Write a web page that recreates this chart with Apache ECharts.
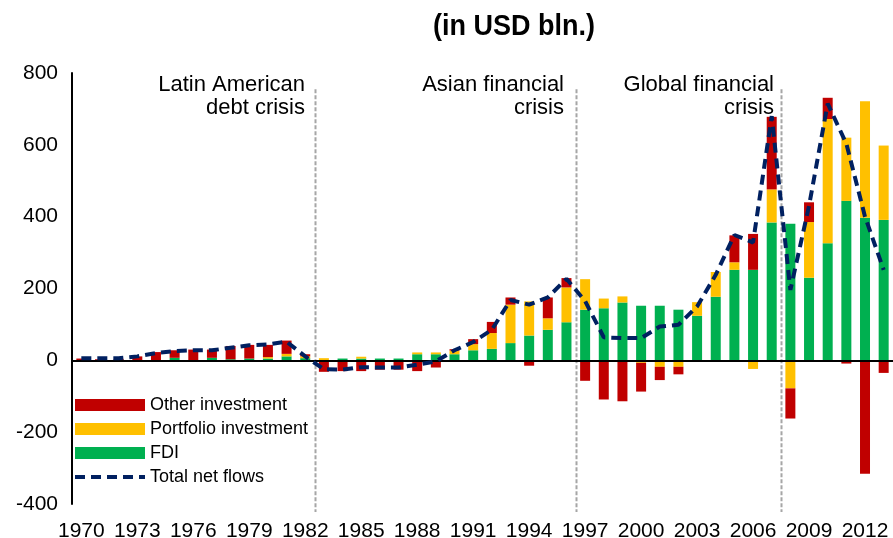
<!DOCTYPE html>
<html><head><meta charset="utf-8">
<script src="https://cdn.jsdelivr.net/npm/echarts@6/dist/echarts.min.js"></script>
<style>html,body{margin:0;padding:0;background:#fff}#c{width:893px;height:538px}</style>
</head><body><div id="c"></div>
<script>
const years = [];
for (let y = 1970; y <= 2013; y++) years.push(String(y));
const fdi = [0,0,0,0,0,7,0,7,3,5,5,11,6, 0,5,5,5,5,17,17,17,28,32,48,69,85,106, 141,145,161,152,152,141,124,177,252,252,384, 380,230,326,444,397,391];
const portfolio = [0,0,0,0,0,0,0,0,0,0,4,7,5, 6,0,5,0,0,5,5,10,17,44,107,95,32,97, 85,27,17,-7,-18,-18,38,69,21,-24,92, -78,155,346,176,324,207];
const other = [5,3,4,11,23,21,30,23,37,38,34,37,6, -32,-30,-30,-26,-26,-30,-20,4,14,31,20,-15,58,26, -57,-109,-114,-80,-37,-21,-3,0,75,100,202, -84,55,59,-9,-316,-35];
const total = [6,6,6,11,20,26,28,28,35,42,44,52,11, -25,-26,-19,-20,-20,-12,-3,28,51,85,168,155,175,227, 165,64,62,62,94,99,150,238,349,328,680, 196,430,715,603,400,252];
const crisisBoundaries = [13, 27, 38];
const crisisLabels = ['Latin American\ndebt crisis', 'Asian financial\ncrisis', 'Global financial\ncrisis'];
const yTicks = {min: -400, max: 800, interval: 200};

const FONT = '"Liberation Sans", Arial, sans-serif';
const NAVY = '#002060';
const chart = echarts.init(document.getElementById('c'));
const annX = [305, 564, 774];
chart.setOption({
  animation: false,
  textStyle: {fontFamily: FONT},
  grid: {left: 72, right: 0, top: 73, bottom: 34, containLabel: false, outerBoundsMode: 'none'},
  legend: {
    orient: 'vertical', left: 73, top: 396, padding: 0,
    itemWidth: 70, itemHeight: 12, itemGap: 6,
    textStyle: {fontSize: 18, color: '#000', fontFamily: FONT},
    data: [{name: 'Other investment', icon: 'rect'}, {name: 'Portfolio investment', icon: 'rect'}, {name: 'FDI', icon: 'rect'},
      {name: 'Total net flows', itemStyle: {color: 'rgba(0,0,0,0)', borderWidth: 0},
       lineStyle: {color: NAVY, width: 4, type: [10, 6]}}]
  },
  xAxis: [
    {type: 'category', data: years, boundaryGap: true,
     axisLine: {show: false, onZero: false}, axisTick: {show: false},
     axisLabel: {interval: 2, fontSize: 21, color: '#000', margin: 17, fontFamily: FONT}},
    {type: 'value', min: 0, max: years.length, show: false}
  ],
  yAxis: {type: 'value', min: yTicks.min, max: yTicks.max, interval: yTicks.interval,
    axisLine: {show: true, lineStyle: {color: '#000', width: 2}}, axisTick: {show: false},
    splitLine: {show: false},
    axisLabel: {fontSize: 21, color: '#000', margin: 14, fontFamily: FONT}},
  series: [
    {name: 'FDI', type: 'bar', stack: 's', data: fdi, barWidth: 10, itemStyle: {color: '#00B050'},
     markLine: {silent: true, symbol: 'none', label: {show: false}, lineStyle: {color: '#000', width: 2, type: 'solid'}, data: [{yAxis: 0}]}},
    {name: 'Portfolio investment', type: 'bar', stack: 's', data: portfolio, barWidth: 10, itemStyle: {color: '#FFC000'}},
    {name: 'Other investment', type: 'bar', stack: 's', data: other, barWidth: 10, itemStyle: {color: '#C00000'}},
    {name: 'Total net flows', type: 'line', data: total, symbol: 'none', z: 5,
     lineStyle: {color: NAVY, width: 4, type: [10, 6]}, itemStyle: {color: NAVY}}
  ]
});

// crisis separators: positioned through the chart's own axes
const sepTop = 755, sepBottomPx = 8;
const bottomY = chart.convertToPixel({yAxisIndex: 0}, yTicks.min) + sepBottomPx;
const topY = chart.convertToPixel({yAxisIndex: 0}, sepTop);
const graphics = [
  {id: 'title', type: 'text', x: 514, y: 27, scaleY: 1.1, style: {text: '(in USD bln.)', font: 'bold 27px ' + FONT, fill: '#000', align: 'center', verticalAlign: 'middle'}}
].concat(crisisLabels.map((t, i) => ({
  id: 'ann' + i, type: 'text', x: annX[i], y: 73,
  style: {text: t, font: '22px ' + FONT, fill: '#000', align: 'right', verticalAlign: 'top', lineHeight: 23}
}))).concat(crisisBoundaries.map((b, i) => {
  const x = Math.round(chart.convertToPixel({xAxisIndex: 1}, b)) + 0.5;
  return {id: 'sep' + i, type: 'line', silent: true, z: 1,
    shape: {x1: x, y1: topY, x2: x, y2: bottomY},
    style: {stroke: '#A6A6A6', lineWidth: 2, lineDash: [4, 2]}};
}));
chart.setOption({graphic: graphics});
</script></body></html>
